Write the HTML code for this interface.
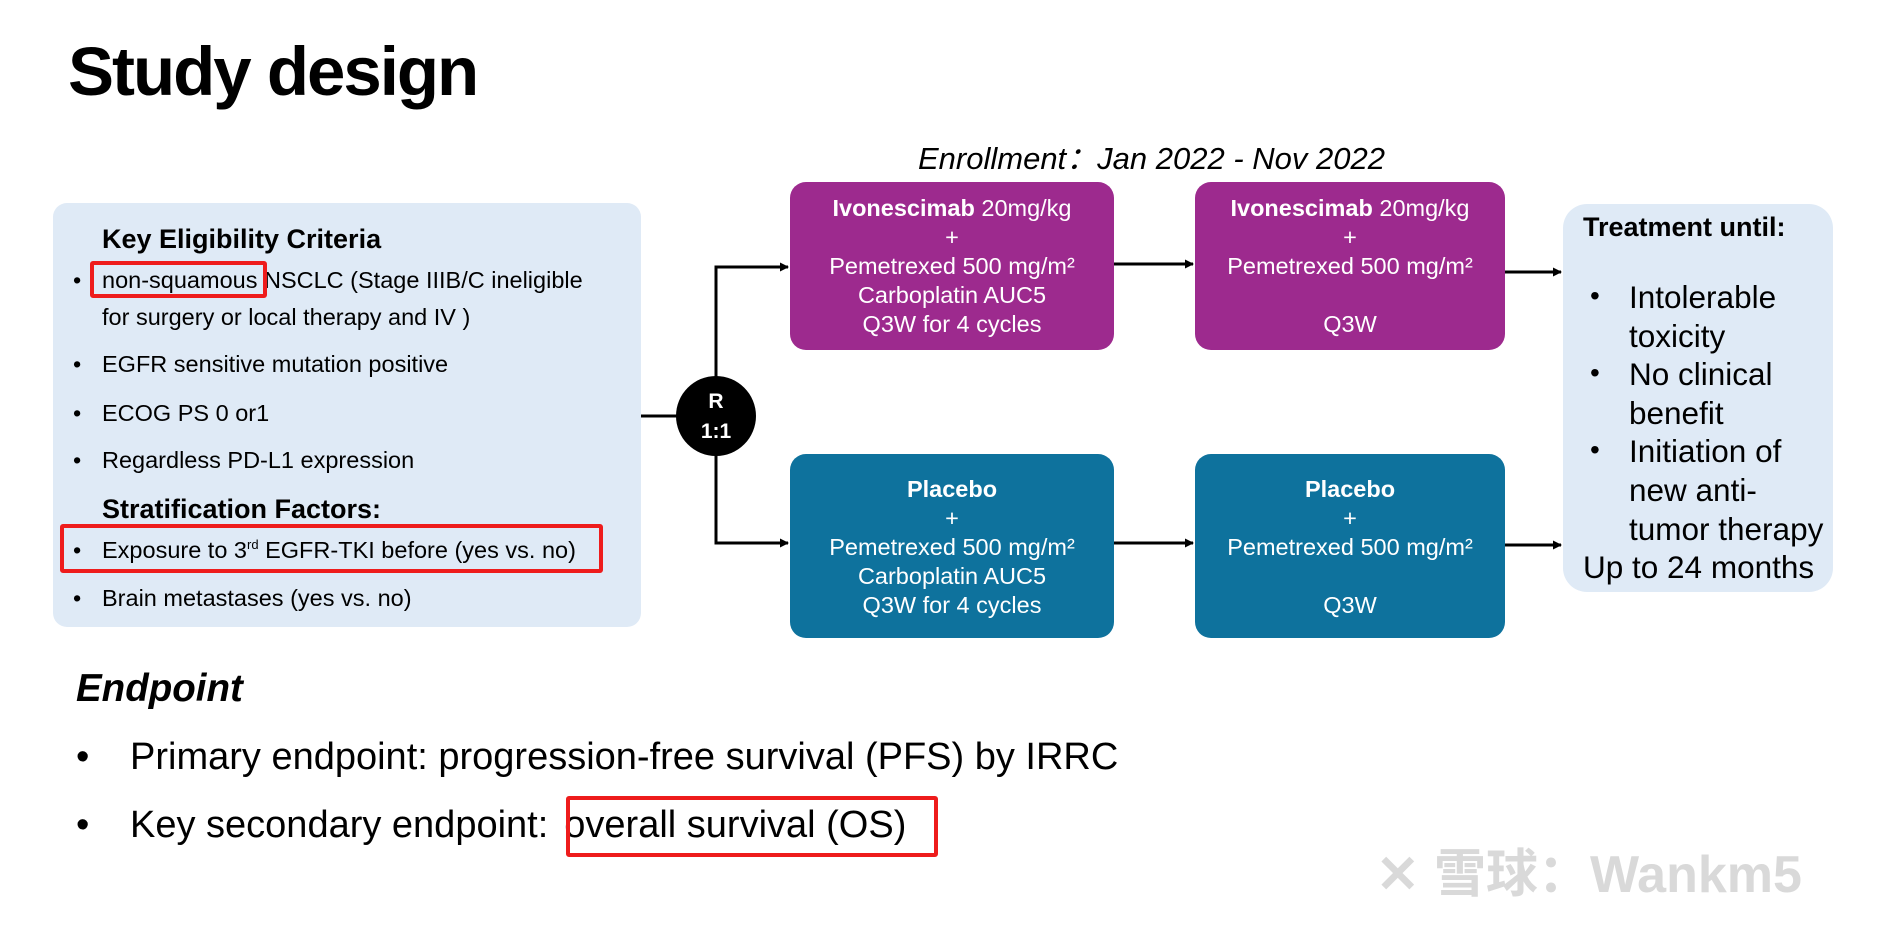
<!DOCTYPE html>
<html><head><meta charset="utf-8"><style>
body{margin:0;width:1903px;height:925px;background:#fff;position:relative;overflow:hidden;font-family:"Liberation Sans","Noto Sans CJK SC",sans-serif;color:#000}
.a{position:absolute;white-space:nowrap}
.box{position:absolute;border-radius:16px;color:#fff;font-size:23.5px;text-align:center}
.box div{position:absolute;left:0;right:0;line-height:29px;white-space:nowrap}
.pur{background:#9d2a8e}.teal{background:#0e729d}
.lb{position:absolute;left:53px;top:203px;width:588px;height:424px;background:#dfeaf6;border-radius:14px}
.li{position:absolute;font-size:23.5px;line-height:26px;white-space:nowrap}
.li sup{font-size:13px;line-height:0;vertical-align:9px}
.red{position:absolute;border:4px solid #ee1c1c;border-radius:3px;box-sizing:border-box}
.tb{font-size:31.5px;position:absolute;left:1629px;line-height:38px;white-space:nowrap}
.bu{position:absolute;left:1590px;font-size:28px}
</style></head><body>
<div class="a" style="left:68px;top:32px;font-size:69px;font-weight:bold;letter-spacing:-2px">Study design</div>
<div class="a" style="left:918px;top:133px;font-size:31px;font-style:italic">Enrollment：Jan 2022 - Nov 2022</div>

<div class="lb"></div>
<div class="li" style="left:102px;top:226px;font-weight:bold;font-size:27px">Key Eligibility Criteria</div>
<div class="li" style="left:73px;top:267px">•</div><div class="li" style="left:102px;top:267px">non-squamous NSCLC (Stage IIIB/C ineligible</div>
<div class="li" style="left:102px;top:304px">for surgery or local therapy and IV )</div>
<div class="li" style="left:73px;top:351px">•</div><div class="li" style="left:102px;top:351px">EGFR sensitive mutation positive</div>
<div class="li" style="left:73px;top:400px">•</div><div class="li" style="left:102px;top:400px">ECOG PS 0 or1</div>
<div class="li" style="left:73px;top:447px">•</div><div class="li" style="left:102px;top:447px">Regardless PD-L1 expression</div>
<div class="li" style="left:102px;top:496px;font-weight:bold;font-size:27px">Stratification Factors:</div>
<div class="li" style="left:73px;top:537px">•</div><div class="li" style="left:102px;top:537px">Exposure to 3<sup>rd</sup> EGFR-TKI before (yes vs. no)</div>
<div class="li" style="left:73px;top:585px">•</div><div class="li" style="left:102px;top:585px">Brain metastases (yes vs. no)</div>
<div class="red" style="left:90px;top:261px;width:177px;height:37px"></div>
<div class="red" style="left:60px;top:524px;width:543px;height:49px"></div>

<svg class="a" style="left:0;top:0" width="1903" height="925">
<defs><marker id="ar" markerWidth="9" markerHeight="9" refX="8" refY="4.5" orient="auto" markerUnits="userSpaceOnUse"><path d="M0,0L9,4.5L0,9z" fill="#000"/></marker></defs>
<g stroke="#000" stroke-width="3" fill="none">
<line x1="641" y1="416" x2="680" y2="416"/>
<polyline points="716,416 716,267 788,267" marker-end="url(#ar)"/>
<polyline points="716,416 716,543 788,543" marker-end="url(#ar)"/>
<line x1="1114" y1="264" x2="1193" y2="264" marker-end="url(#ar)"/>
<line x1="1114" y1="543" x2="1193" y2="543" marker-end="url(#ar)"/>
<line x1="1505" y1="272" x2="1561" y2="272" marker-end="url(#ar)"/>
<line x1="1505" y1="545" x2="1561" y2="545" marker-end="url(#ar)"/>
</g>
<ellipse cx="716" cy="416" rx="40" ry="40" fill="#000"/>
<text x="716" y="408" fill="#fff" font-size="21" font-weight="bold" text-anchor="middle" font-family="Liberation Sans">R</text>
<text x="716" y="438" fill="#fff" font-size="21" font-weight="bold" text-anchor="middle" font-family="Liberation Sans">1:1</text>
</svg>

<div class="box pur" style="left:790px;top:182px;width:324px;height:168px">
<div style="top:12px"><b>Ivonescimab</b> 20mg/kg</div><div style="top:41px">+</div><div style="top:70px">Pemetrexed 500 mg/m²</div><div style="top:99px">Carboplatin AUC5</div><div style="top:128px">Q3W for 4 cycles</div></div>
<div class="box pur" style="left:1195px;top:182px;width:310px;height:168px">
<div style="top:12px"><b>Ivonescimab</b> 20mg/kg</div><div style="top:41px">+</div><div style="top:70px">Pemetrexed 500 mg/m²</div><div style="top:128px">Q3W</div></div>
<div class="box teal" style="left:790px;top:454px;width:324px;height:184px">
<div style="top:21px"><b>Placebo</b></div><div style="top:50px">+</div><div style="top:79px">Pemetrexed 500 mg/m²</div><div style="top:108px">Carboplatin AUC5</div><div style="top:137px">Q3W for 4 cycles</div></div>
<div class="box teal" style="left:1195px;top:454px;width:310px;height:184px">
<div style="top:21px"><b>Placebo</b></div><div style="top:50px">+</div><div style="top:79px">Pemetrexed 500 mg/m²</div><div style="top:137px">Q3W</div></div>

<div style="position:absolute;left:1563px;top:204px;width:270px;height:388px;background:#dfeaf6;border-radius:24px"></div>
<div class="a" style="left:1583px;top:212px;font-size:27px;font-weight:bold">Treatment until:</div>
<div class="bu" style="top:280px">•</div><div class="tb" style="top:278px">Intolerable</div>
<div class="tb" style="top:317px">toxicity</div>
<div class="bu" style="top:357px">•</div><div class="tb" style="top:355px">No clinical</div>
<div class="tb" style="top:394px">benefit</div>
<div class="bu" style="top:434px">•</div><div class="tb" style="top:432px">Initiation of</div>
<div class="tb" style="top:471px">new anti-</div>
<div class="tb" style="top:510px">tumor therapy</div>
<div class="tb" style="top:548px;left:1583px">Up to 24 months</div>

<div class="a" style="left:76px;top:667px;font-size:38.5px;font-weight:bold;font-style:italic">Endpoint</div>
<div class="a" style="left:76px;top:736px;font-size:38px">•</div><div class="a" style="left:130px;top:736px;font-size:38px">Primary endpoint: progression-free survival (PFS) by IRRC</div>
<div class="a" style="left:76px;top:804px;font-size:38px">•</div><div class="a" style="left:130px;top:804px;font-size:38px">Key secondary endpoint:<span style="margin-left:16px">overall survival (OS)</span></div>
<div class="red" style="left:566px;top:796px;width:372px;height:61px"></div>
<div class="a" style="left:1376px;top:832px;font-size:52px;color:#d9d9d9;font-weight:bold">✕ 雪球：Wankm5</div>
</body></html>
